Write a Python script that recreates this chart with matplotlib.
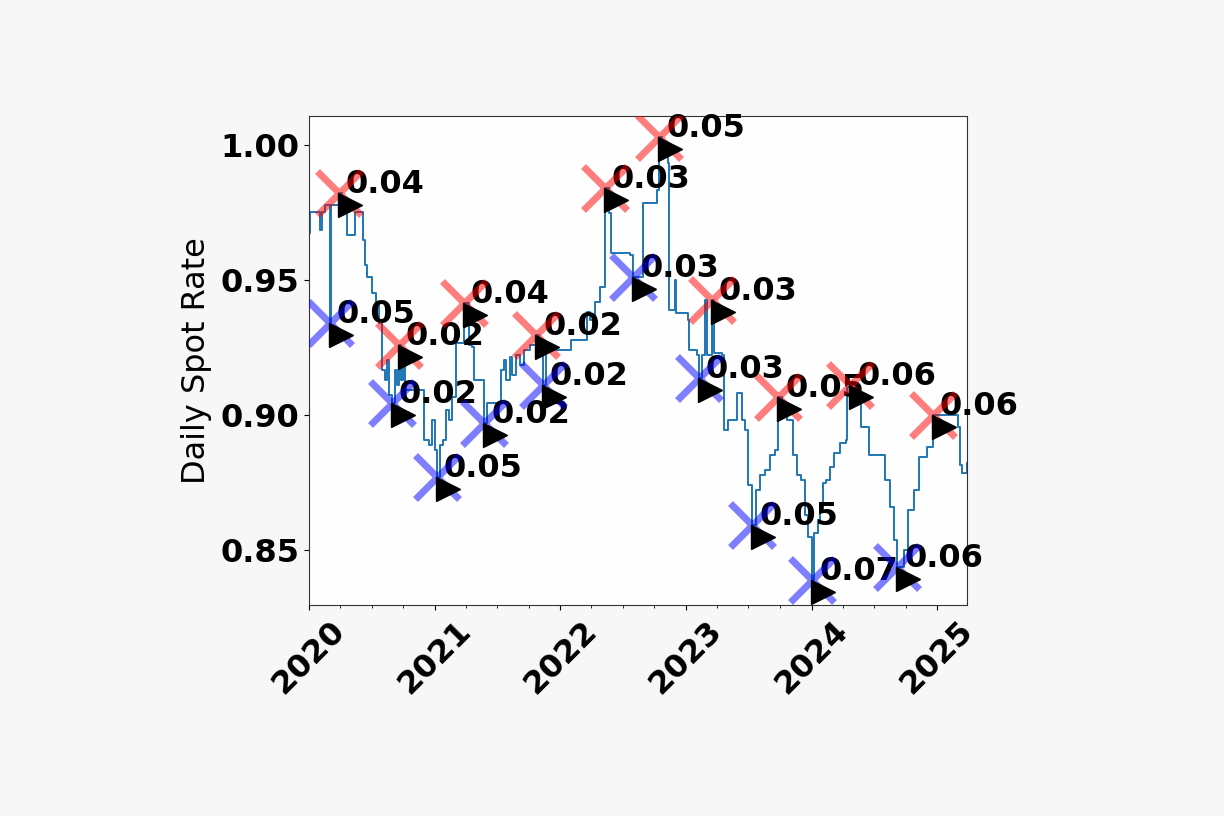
import matplotlib
matplotlib.use("Agg")
import matplotlib.pyplot as plt
import matplotlib.dates as mdates
import matplotlib.transforms as mtransforms
import pandas as pd

# daily spot rate
series_dates = [
    "2020-01-01", "2020-01-05", "2020-01-28", "2020-02-03", "2020-02-09", "2020-02-15",
    "2020-02-27", "2020-03-01", "2020-03-06", "2020-03-21", "2020-03-27", "2020-04-05",
    "2020-04-16", "2020-04-19", "2020-05-10", "2020-05-13", "2020-06-02", "2020-06-05",
    "2020-06-11", "2020-06-17", "2020-07-01", "2020-07-13", "2020-07-22", "2020-07-30",
    "2020-08-08", "2020-08-14", "2020-08-20", "2020-08-29", "2020-09-07", "2020-09-12",
    "2020-09-18", "2020-09-24", "2020-09-30", "2020-10-06", "2020-11-15", "2020-11-30",
    "2020-12-15", "2020-12-23", "2021-01-01", "2021-01-07", "2021-01-16", "2021-01-25",
    "2021-02-02", "2021-02-10", "2021-02-19", "2021-03-03", "2021-03-23", "2021-03-26",
    "2021-04-10", "2021-04-19", "2021-04-25", "2021-05-10", "2021-05-24", "2021-06-02",
    "2021-07-10", "2021-07-13", "2021-07-22", "2021-07-28", "2021-08-06", "2021-08-14",
    "2021-08-26", "2021-09-04", "2021-09-18", "2021-10-03", "2021-10-23", "2021-11-01",
    "2021-11-10", "2021-11-19", "2022-01-28", "2022-02-02", "2022-03-12", "2022-03-18",
    "2022-03-27", "2022-04-11", "2022-04-25", "2022-05-07", "2022-05-10", "2022-05-22",
    "2022-05-28", "2022-07-23", "2022-07-31", "2022-08-26", "2022-08-29", "2022-10-06",
    "2022-10-09", "2022-10-15", "2022-10-23", "2022-11-10", "2022-11-13", "2022-11-28",
    "2022-12-01", "2022-12-03", "2023-01-07", "2023-01-10", "2023-02-02", "2023-02-07",
    "2023-02-16", "2023-02-25", "2023-03-03", "2023-03-17", "2023-03-23", "2023-04-16",
    "2023-04-21", "2023-05-03", "2023-05-24", "2023-05-29", "2023-06-10", "2023-06-13",
    "2023-06-22", "2023-07-01", "2023-07-12", "2023-07-24", "2023-08-05", "2023-08-19",
    "2023-09-03", "2023-09-17", "2023-09-26", "2023-10-08", "2023-10-17", "2023-10-22",
    "2023-10-31", "2023-11-09", "2023-11-21", "2023-12-02", "2023-12-14", "2023-12-22",
    "2024-01-03", "2024-01-09", "2024-01-21", "2024-01-27", "2024-02-02", "2024-02-13",
    "2024-02-25", "2024-03-05", "2024-03-25", "2024-04-09", "2024-04-12", "2024-04-23",
    "2024-05-08", "2024-05-25", "2024-06-15", "2024-07-29", "2024-08-03", "2024-08-15",
    "2024-08-27", "2024-09-07", "2024-09-25", "2024-10-09", "2024-10-24", "2024-11-08",
    "2024-12-01", "2024-12-19", "2025-02-19", "2025-03-02", "2025-03-07", "2025-03-13",
    "2025-03-28",
]
series_values = [
    0.9674, 0.9752, 0.9752, 0.9685, 0.9752, 0.9778,
    0.9778, 0.9341, 0.9778, 0.9778, 0.9822, 0.9752,
    0.9752, 0.9667, 0.9667, 0.9752, 0.9752, 0.9648,
    0.9556, 0.9511, 0.9452, 0.9415, 0.9341, 0.9167,
    0.9130, 0.9204, 0.9074, 0.9044, 0.9167, 0.9111,
    0.9259, 0.9130, 0.9185, 0.9093, 0.9093, 0.8907,
    0.8889, 0.8981, 0.8870, 0.8770, 0.8889, 0.8907,
    0.9019, 0.8981, 0.9067, 0.9267, 0.9267, 0.9415,
    0.9259, 0.9252, 0.9130, 0.9130, 0.8970, 0.9044,
    0.9044, 0.9167, 0.9204, 0.9130, 0.9215, 0.9148,
    0.9222, 0.9185, 0.9241, 0.9259, 0.9296, 0.9241,
    0.9111, 0.9241, 0.9241, 0.9278, 0.9278, 0.9381,
    0.9352, 0.9419, 0.9474, 0.9474, 0.9841, 0.9748,
    0.9600, 0.9593, 0.9511, 0.9511, 0.9785, 0.9785,
    0.9833, 1.0030, 0.9970, 0.9933, 0.9389, 0.9389,
    0.9500, 0.9378, 0.9352, 0.9241, 0.9222, 0.9137,
    0.9222, 0.9426, 0.9222, 0.9426, 0.9230, 0.9222,
    0.8944, 0.8981, 0.8981, 0.9081, 0.9081, 0.8981,
    0.8944, 0.8741, 0.8593, 0.8722, 0.8778, 0.8796,
    0.8852, 0.8870, 0.9067, 0.9037, 0.9044, 0.8981,
    0.8981, 0.8852, 0.8778, 0.8759, 0.8630, 0.8548,
    0.8389, 0.8563, 0.8611, 0.8659, 0.8748, 0.8759,
    0.8807, 0.8859, 0.8896, 0.8907, 0.9104, 0.9111,
    0.9081, 0.8956, 0.8852, 0.8852, 0.8759, 0.8659,
    0.8537, 0.8437, 0.8500, 0.8648, 0.8722, 0.8844,
    0.8881, 0.9000, 0.9000, 0.8956, 0.8815, 0.8785,
    0.8822,
]

# local maxima (red) and minima (blue) with their labels
peak_dates = ["2020-03-27", "2020-09-18", "2021-03-26", "2021-10-23", "2022-05-10",
              "2022-10-15", "2023-03-17", "2023-09-26", "2024-04-23", "2024-12-19"]
peak_values = [0.9822, 0.9259, 0.9415, 0.9296, 0.9841, 1.0030, 0.9426, 0.9067, 0.9111, 0.9000]
peak_labels = ["0.04", "0.02", "0.04", "0.02", "0.03", "0.05", "0.03", "0.05", "0.06", "0.06"]

trough_dates = ["2020-03-01", "2020-08-29", "2021-01-07", "2021-05-24", "2021-11-10",
                "2022-07-31", "2023-02-07", "2023-07-12", "2024-01-03", "2024-09-07"]
trough_values = [0.9341, 0.9044, 0.8770, 0.8970, 0.9111, 0.9511, 0.9137, 0.8593, 0.8389, 0.8437]
trough_labels = ["0.05", "0.02", "0.05", "0.02", "0.02", "0.03", "0.03", "0.05", "0.07", "0.06"]

dates = pd.to_datetime(series_dates)
pk_d = pd.to_datetime(peak_dates)
tr_d = pd.to_datetime(trough_dates)

fig = plt.figure(figsize=(12.24, 8.16), dpi=100, facecolor="#f7f7f7")
ax = fig.add_axes([0.2525, 0.2586, 0.5375, 0.5992])
ax.set_facecolor("#fefefe")

ax.plot(dates, series_values, drawstyle="steps-post", color="#1f77b4", linewidth=1.4, zorder=2)

# big crosses at the turning points
ax.plot(pk_d, peak_values, "x", color="red", alpha=0.5, markersize=31, mew=5, zorder=4)
ax.plot(tr_d, trough_values, "x", color="blue", alpha=0.5, markersize=31, mew=5, zorder=4)

# black pointers, a little below and right of each point
tri_trans = mtransforms.offset_copy(ax.transData, fig=fig, x=11, y=-12, units="dots")
ax.plot(pk_d, peak_values, ">", color="black", markersize=17, transform=tri_trans, zorder=5)
ax.plot(tr_d, trough_values, ">", color="black", markersize=17, transform=tri_trans, zorder=5)

for d, v, s in zip(pk_d, peak_values, peak_labels):
    ax.annotate(s, (d, v), xytext=(7, 0), textcoords="offset pixels",
                fontsize=23, fontweight="bold", zorder=3)
for d, v, s in zip(tr_d, trough_values, trough_labels):
    ax.annotate(s, (d, v), xytext=(7, 0), textcoords="offset pixels",
                fontsize=23, fontweight="bold", zorder=3)

ax.set_xlim(dates[0], dates[-1])
ax.set_ylim(0.8296, 1.0107)
ax.set_yticks([0.85, 0.90, 0.95, 1.00])
ax.yaxis.set_major_formatter(matplotlib.ticker.FormatStrFormatter("%.2f"))

ax.xaxis.set_major_locator(mdates.YearLocator())
ax.xaxis.set_major_formatter(mdates.DateFormatter("%Y"))
ax.xaxis.set_minor_locator(mdates.MonthLocator(bymonth=[1, 4, 7, 10]))

for lbl in ax.get_xticklabels():
    lbl.set_rotation(45)
    lbl.set_fontsize(23)
    lbl.set_fontweight("bold")
for lbl in ax.get_yticklabels():
    lbl.set_fontsize(23)
    lbl.set_fontweight("bold")

ax.set_ylabel("Daily Spot Rate", fontsize=23, labelpad=6)

for sp in ax.spines.values():
    sp.set_color("#333333")

fig.savefig("out.png", dpi=100, facecolor=fig.get_facecolor())
